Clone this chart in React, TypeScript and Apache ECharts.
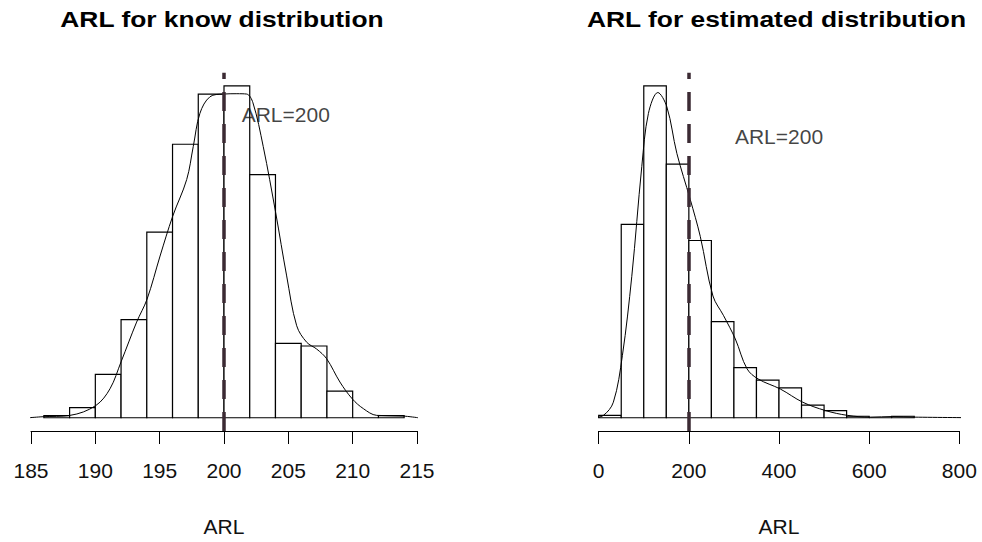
import React, { useEffect, useRef } from 'react';
import * as echarts from 'echarts';

// ---- Left panel: known distribution ----
const knownBinStarts = [186, 188, 190, 192, 194, 196, 198, 200, 202, 204, 206, 208, 210, 212];
const knownBinWidth = 2;
const knownDensity = [0.0006, 0.003, 0.0129, 0.0291, 0.0551, 0.0812, 0.0961, 0.0985, 0.0722, 0.0221, 0.0213, 0.0079, 0, 0.0006];
const knownCurveX = [184.84, 185.93, 188.03, 190.03, 191.14, 192.0, 193.21, 194.02, 195.03, 196.01, 197.1, 197.61, 198.13, 198.91, 199.95, 201.0, 201.76, 202.25, 203.05, 204.02, 204.87, 205.65, 206.43, 207.2, 207.98, 209.01, 209.97, 210.83, 211.87, 213.91, 215.08];
const knownCurveY = [0, 0.0003, 0.0007, 0.0036, 0.0086, 0.0166, 0.0284, 0.0352, 0.048, 0.0598, 0.0707, 0.0805, 0.0904, 0.0953, 0.0961, 0.0962, 0.0961, 0.0935, 0.0805, 0.0608, 0.0421, 0.0273, 0.0224, 0.0204, 0.0175, 0.0106, 0.0056, 0.0027, 0.0007, 0.0005, 0];
const knownTicks = { min: 185, max: 215, interval: 5 };

// ---- Right panel: estimated distribution ----
const estBinStarts = [0, 50, 100, 150, 200, 250, 300, 350, 400, 450, 500, 550, 600, 650];
const estBinWidth = 50;
const estDensity = [0.000038, 0.00324, 0.00556, 0.00425, 0.00297, 0.00161, 0.00084, 0.00063, 0.0005, 0.00021, 0.00012, 0.000025, 0, 0.000025];
const estCurveX = [-32.6, -12, 10.2, 32.5, 52.5, 73.4, 95.6, 110.3, 131.2, 151.2, 173.4, 203, 225.3, 253.5, 277.1, 303.1, 329.1, 353.6, 403.2, 452.7, 503.2, 551.5, 603.3, 651.5, 699.6, 833.9];
const estCurveY = [0, 0.000003, 0.000038, 0.00026, 0.00104, 0.00237, 0.00421, 0.0051, 0.00545, 0.00521, 0.00443, 0.00366, 0.00304, 0.00204, 0.00171, 0.00132, 0.00082, 0.00065, 0.00048, 0.00026, 0.00012, 0.00004, 0.00001, 0.00002, 0.00001, 0];
const estTicks = { min: 0, max: 800, interval: 200 };

const targetARL = 200;
const knownLabelPos = [204.8, 0.09];
const estLabelPos = [400, 0.00471];
const titles = ['ARL for know distribution', 'ARL for estimated distribution'];
const axisName = 'ARL';

const FONT = '"Liberation Sans", Arial, sans-serif';

function histSeries(idx: number, starts: number[], width: number, dens: number[]) {
  return {
    type: 'custom',
    xAxisIndex: idx,
    yAxisIndex: idx,
    encode: { x: [0, 1], y: 2 },
    data: starts.map((s, i) => [s, s + width, dens[i]]),
    renderItem: (_p: any, api: any) => {
      const a = api.coord([api.value(0), api.value(2)]);
      const b = api.coord([api.value(1), 0]);
      return {
        type: 'rect',
        shape: { x: a[0], y: a[1], width: b[0] - a[0], height: b[1] - a[1] },
        style: { fill: '#fff', stroke: '#000', lineWidth: 1.2 },
      };
    },
    z: 1,
  };
}

function curveSeries(idx: number, xs: number[], ys: number[], labelPos: number[]) {
  return [
    {
      type: 'line',
      xAxisIndex: idx,
      yAxisIndex: idx,
      data: xs.map((x, i) => [x, ys[i]]),
      smooth: 0.35,
      symbol: 'none',
      clip: false,
      lineStyle: { color: '#000', width: 1 },
      z: 2,
      markLine: {
        silent: true,
        symbol: 'none',
        label: { show: false },
        lineStyle: { color: '#3b2a33', width: 3.5, type: [19, 13], cap: 'butt' },
        data: [{ xAxis: targetARL }],
        z: 3,
      },
    },
    {
      type: 'scatter',
      xAxisIndex: idx,
      yAxisIndex: idx,
      data: [labelPos],
      symbolSize: 0,
      label: {
        show: true,
        position: 'inside',
        formatter: 'ARL=' + targetARL,
        fontSize: 21,
        fontFamily: FONT,
        color: '#111',
      },
      z: 4,
    },
  ];
}

function xAxisCfg(idx: number, t: { min: number; max: number; interval: number }) {
  return {
    type: 'value',
    gridIndex: idx,
    min: t.min,
    max: t.max,
    interval: t.interval,
    axisLine: { show: true, onZero: false, lineStyle: { color: '#000', width: 1 } },
    axisTick: { show: true, length: 13, lineStyle: { color: '#000', width: 1 } },
    axisLabel: { color: '#111', fontSize: 21, fontFamily: FONT, margin: 29 },
    splitLine: { show: false },
    name: axisName,
    nameLocation: 'middle',
    nameGap: 85,
    nameTextStyle: { color: '#111', fontSize: 21, fontFamily: FONT },
  };
}

function yAxisCfg(idx: number, dens: number[]) {
  const m = Math.max(...dens);
  return { type: 'value', gridIndex: idx, show: false, min: -0.04 * m, max: 1.04 * m, splitLine: { show: false } };
}

export default function App() {
  const ref = useRef<HTMLDivElement>(null);
  useEffect(() => {
    if (!ref.current) return;
    const chart = echarts.init(ref.current, null, { renderer: 'svg' });
    chart.setOption({
      animation: false,
      backgroundColor: '#fff',
      grid: [
        { left: 31, top: 72.7, width: 386, height: 360 },
        { left: 598.7, top: 72.7, width: 360.6, height: 360 },
      ],
      xAxis: [xAxisCfg(0, knownTicks), xAxisCfg(1, estTicks)],
      yAxis: [yAxisCfg(0, knownDensity), yAxisCfg(1, estDensity)],
      graphic: [
        {
          type: 'text', x: 222, y: 19, scaleX: 1.2,
          style: { text: titles[0], x: 0, y: 0, align: 'center', verticalAlign: 'middle', fontSize: 22, fontWeight: 'bold', fontFamily: FONT, fill: '#000' },
        },
        {
          type: 'text', x: 776.5, y: 19, scaleX: 1.2,
          style: { text: titles[1], x: 0, y: 0, align: 'center', verticalAlign: 'middle', fontSize: 22, fontWeight: 'bold', fontFamily: FONT, fill: '#000' },
        },
      ],
      series: [
        histSeries(0, knownBinStarts, knownBinWidth, knownDensity),
        ...curveSeries(0, knownCurveX, knownCurveY, knownLabelPos),
        histSeries(1, estBinStarts, estBinWidth, estDensity),
        ...curveSeries(1, estCurveX, estCurveY, estLabelPos),
      ],
    });
    return () => chart.dispose();
  }, []);
  return <div ref={ref} style={{ position: 'fixed', left: 0, top: 0, width: 982, height: 542, background: '#fff' }} />;
}
